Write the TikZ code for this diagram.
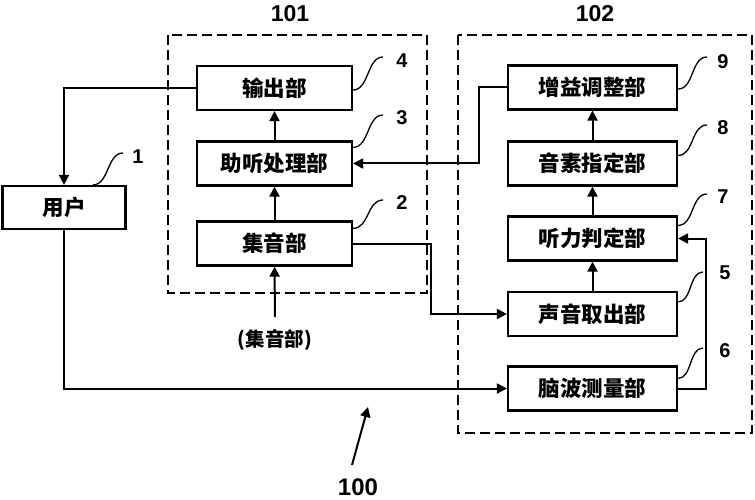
\documentclass[tikz,border=0pt]{standalone}
\usepackage{fontspec}
\setmainfont{Liberation Sans}
\newfontfamily\cjk{Noto Sans CJK SC}
\usetikzlibrary{positioning}
\usetikzlibrary{arrows.meta,calc}

\begin{document}
\begin{tikzpicture}[x=1pt, y=-1pt, >={Triangle[length=10pt,width=10pt]},
    block/.style={draw, line width=2.2pt, minimum width=155pt, minimum height=44pt,
                  font=\cjk\bfseries\fontsize{21.5}{24}\selectfont},
    link/.style={line width=2pt},
    lead/.style={line width=1.3pt},
    num/.style={inner sep=0pt, font=\bfseries\fontsize{20}{22}\selectfont},
    unit/.style={draw, line width=2.8pt, dash pattern=on 10pt off 5pt}]

                \useasboundingbox (0,0) rectangle (755,500);

                % Units
                \draw[unit] (168,35) rectangle (427,293);
                \draw[unit] (458,35) rectangle (752,433);
                \node at (290,14) (u101) [font=\bfseries\fontsize{23}{26}\selectfont] {101};
                \node at (595,14) (u102) [font=\bfseries\fontsize{23}{26}\selectfont] {102};

                % Nodes
                \node at (274.5,88) (out) [block] {输出部};
                \node at (274.5,163.5) (proc) [block] {助听处理部};
                \node at (274.5,243.5) (mic) [block] {集音部};
                \node at (64,207.5) (user) [block, minimum width=123pt, minimum height=43pt] {用户};
                \node at (592.5,87.5) (gain) [block, minimum width=169pt] {增益调整部};
                \node at (592.5,163.5) (phon) [block, minimum width=169pt] {音素指定部};
                \node at (592.5,238.5) (judge) [block, minimum width=169pt] {听力判定部};
                \node at (592.5,314) (extract) [block, minimum width=169pt] {声音取出部};
                \node at (592.5,388.5) (eeg) [block, minimum width=169pt] {脑波测量部};
                \node at (275,340) (micin) [font=\cjk\bfseries\fontsize{19.5}{22}\selectfont] {(集音部)};
                \node at (358,487) (sys) [font=\bfseries\fontsize{24}{26}\selectfont] {100};

                % Numbers
                \node at (402,61) (n4) [num] {4};
                \node at (402,118) (n3) [num] {3};
                \node at (402,203) (n2) [num] {2};
                \node at (138,157) (n1) [num] {1};
                \node at (723,62) (n9) [num] {9};
                \node at (723,128) (n8) [num] {8};
                \node at (723,197) (n7) [num] {7};
                \node at (725,273) (n5) [num] {5};
                \node at (725,351) (n6) [num] {6};

                % Arrows
                \draw[link,->] (out.west) -| (user.north);
                \draw[link,->] (proc) -- (out);
                \draw[link,->] (mic) -- (proc);
                \draw[link,->, shorten <=9pt] (micin) -- (mic);
                \draw[link,->] (mic.east) -- ++(78,0) |- (extract.west);
                \draw[link,->] (gain.west) -- ++(-28,0) |- (proc.east);
                \draw[link,->] (phon) -- (gain);
                \draw[link,->] (judge) -- (phon);
                \draw[link,->] (extract) -- (judge);
                \draw[link,->] (eeg.east) -- ++(28,0) |- (judge.east);
                \draw[link,->] (user.south) |- (eeg.west);
                \coordinate (tail) at (352,465);
                \coordinate (tip) at (368,407);
                \draw[link,->] (tail) -- (tip);

                % Leaders
                \draw[lead] ($(out.east)+(0,2)$) .. controls +(16,0) and +(-16,0) .. ($(n4)+(-19,-4)$);
                \draw[lead] ($(proc.north east)+(0,7)$) .. controls +(16,0) and +(-16,0) .. ($(n3)+(-19,-3)$);
                \draw[lead] ($(mic.north east)+(0,8)$) .. controls +(16,0) and +(-16,0) .. ($(n2)+(-19,-3)$);
                \draw[lead] ($(user.north)+(29,0)$) .. controls +(16,0) and +(-16,0) .. ($(n1)+(-15,-4)$);
                \draw[lead] ($(gain.east)+(0,1.5)$) .. controls +(16,0) and +(-16,0) .. ($(n9)+(-16,-5)$);
                \draw[lead] ($(phon.north east)+(0,15)$) .. controls +(16,0) and +(-16,0) .. ($(n8)+(-16,-3)$);
                \draw[lead] ($(judge.north east)+(0,10)$) .. controls +(16,0) and +(-16,0) .. ($(n7)+(-16,-3)$);
                \draw[lead] ($(extract.north east)+(0,11)$) .. controls +(14,0) and +(-14,0) .. ($(n5)+(-22,-1)$);
                \draw[lead] ($(eeg.north east)+(0,13)$) .. controls +(14,0) and +(-14,0) .. ($(n6)+(-22,-3)$);

            \end{tikzpicture}
\end{document}
